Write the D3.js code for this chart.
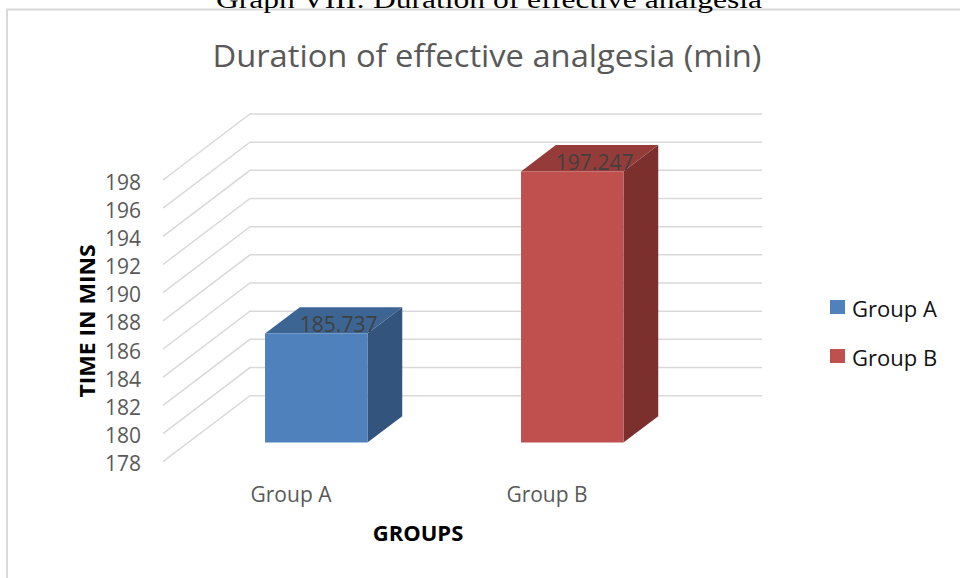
<!DOCTYPE html>
<html>
<head>
<meta charset="utf-8">
<script src="https://cdn.jsdelivr.net/npm/d3@7"></script>
<style>
  html, body { margin: 0; padding: 0; background: #fff; }
  svg { display: block; }
</style>
</head>
<body>
<svg id="chart" width="960" height="578"></svg>
<script>
// ---- data ----
const categories = ["Group A", "Group B"];
const values = [185.737, 197.247];
const valueLabels = ["185.737", "197.247"];
const yTicks = [178, 180, 182, 184, 186, 188, 190, 192, 194, 196, 198];
const seriesColors = {
  "Group A": { front: "#4F81BD", top: "#3D6594", side: "#33557D" },
  "Group B": { front: "#C0504D", top: "#953C3A", side: "#7C302E" }
};

const svg = d3.select("#chart");
const fontSans = "'Open Sans', 'Noto Sans', sans-serif";

// outer frame of the chart area
svg.append("path")
  .attr("d", "M7,590 L7,9.5 L970,9.5")
  .attr("fill", "none")
  .attr("stroke", "#D9D9D9")
  .attr("stroke-width", 2);

// document caption above the chart (partly cut off by the page edge)
svg.append("text")
  .attr("x", 216).attr("y", 8)
  .attr("textLength", 546).attr("lengthAdjust", "spacingAndGlyphs")
  .attr("font-family", "'Liberation Serif', 'DejaVu Serif', serif")
  .attr("font-size", 26).attr("fill", "#000")
  .text("Graph VIII: Duration of effective analgesia");

// chart title
svg.append("text")
  .attr("x", 487).attr("y", 67)
  .attr("text-anchor", "middle")
  .attr("textLength", 549).attr("lengthAdjust", "spacingAndGlyphs")
  .attr("font-family", fontSans).attr("font-size", 31).attr("fill", "#595959")
  .text("Duration of effective analgesia (min)");

// ---- 3D scales ----
const frontLeft = 163, wallWidth = 512;
const DX = 87, DY = -66;            // offset of the back wall from the front plane
const x = d3.scaleBand().domain(categories).range([frontLeft, frontLeft + wallWidth]);
const y = d3.scaleLinear().domain([178, 198]).range([461.7, 180]);
const barDepth0 = 0.29, barDepth1 = 0.69, barFrac = 0.4;

const proj = (px, v, d) => [px + DX * d, y(v) + DY * d];
const poly = pts => "M" + pts.map(p => p.join(",")).join("L") + "Z";

// gridlines: side wall diagonal + back wall horizontal
const grid = svg.append("g");
yTicks.forEach(t => {
  const a = proj(frontLeft, t, 0), b = proj(frontLeft, t, 1), c = proj(frontLeft + wallWidth, t, 1);
  grid.append("path")
    .attr("d", `M${a}L${b}L${c}`)
    .attr("fill", "none").attr("stroke", "#D9D9D9").attr("stroke-width", 1.5);
});

// y tick labels
svg.append("g").selectAll("text").data(yTicks).join("text")
  .attr("x", 141).attr("y", d => y(d) + 1.5)
  .attr("text-anchor", "end").attr("dominant-baseline", "central")
  .attr("font-family", fontSans).attr("font-size", 21).attr("fill", "#595959")
  .text(d => d);

// bars
const bars = svg.append("g");
categories.forEach((cat, i) => {
  const v = values[i];
  const bw = x.bandwidth() * barFrac;
  const x0 = x(cat) + (x.bandwidth() - bw) / 2, x1 = x0 + bw;
  const col = seriesColors[cat];
  const base = y.domain()[0];
  bars.append("path")
    .attr("d", poly([proj(x1, base, barDepth0), proj(x1, v, barDepth0), proj(x1, v, barDepth1), proj(x1, base, barDepth1)]))
    .attr("fill", col.side);
  bars.append("path")
    .attr("d", poly([proj(x0, v, barDepth0), proj(x1, v, barDepth0), proj(x1, v, barDepth1), proj(x0, v, barDepth1)]))
    .attr("fill", col.top);
  bars.append("path")
    .attr("d", poly([proj(x0, base, barDepth0), proj(x0, v, barDepth0), proj(x1, v, barDepth0), proj(x1, base, barDepth0)]))
    .attr("fill", col.front);

  const c = proj((x0 + x1) / 2, v, (barDepth0 + barDepth1) / 2);
  bars.append("text")
    .attr("x", c[0] + 5).attr("y", c[1] + 4)
    .attr("text-anchor", "middle").attr("dominant-baseline", "central")
    .attr("font-family", fontSans).attr("font-size", 21).attr("fill", "#404040")
    .text(valueLabels[i]);
});

// category labels along the front edge
svg.append("g").selectAll("text").data(categories).join("text")
  .attr("x", d => x(d) + x.bandwidth() / 2)
  .attr("y", y(178) + 32)
  .attr("text-anchor", "middle").attr("dominant-baseline", "central")
  .attr("font-family", fontSans).attr("font-size", 21).attr("fill", "#595959")
  .text(d => d);

// axis titles
svg.append("text")
  .attr("x", 418).attr("y", 532)
  .attr("text-anchor", "middle").attr("dominant-baseline", "central")
  .attr("font-family", fontSans).attr("font-size", 22).attr("font-weight", "bold").attr("fill", "#000")
  .text("GROUPS");

svg.append("text")
  .attr("transform", "translate(86,321) rotate(-90)")
  .attr("text-anchor", "middle").attr("dominant-baseline", "central")
  .attr("textLength", 153).attr("lengthAdjust", "spacingAndGlyphs")
  .attr("font-family", fontSans).attr("font-size", 22).attr("font-weight", "bold").attr("fill", "#000")
  .text("TIME IN MINS");

// legend
const legend = svg.append("g").selectAll("g").data(categories).join("g")
  .attr("transform", (d, i) => `translate(830,${307 + i * 49})`);
legend.append("rect")
  .attr("x", 0).attr("y", -7).attr("width", 15).attr("height", 14)
  .attr("fill", d => seriesColors[d].front);
legend.append("text")
  .attr("x", 22).attr("y", 0.5)
  .attr("dominant-baseline", "central")
  .attr("font-family", fontSans).attr("font-size", 22).attr("fill", "#111")
  .text(d => d);
</script>
</body>
</html>
